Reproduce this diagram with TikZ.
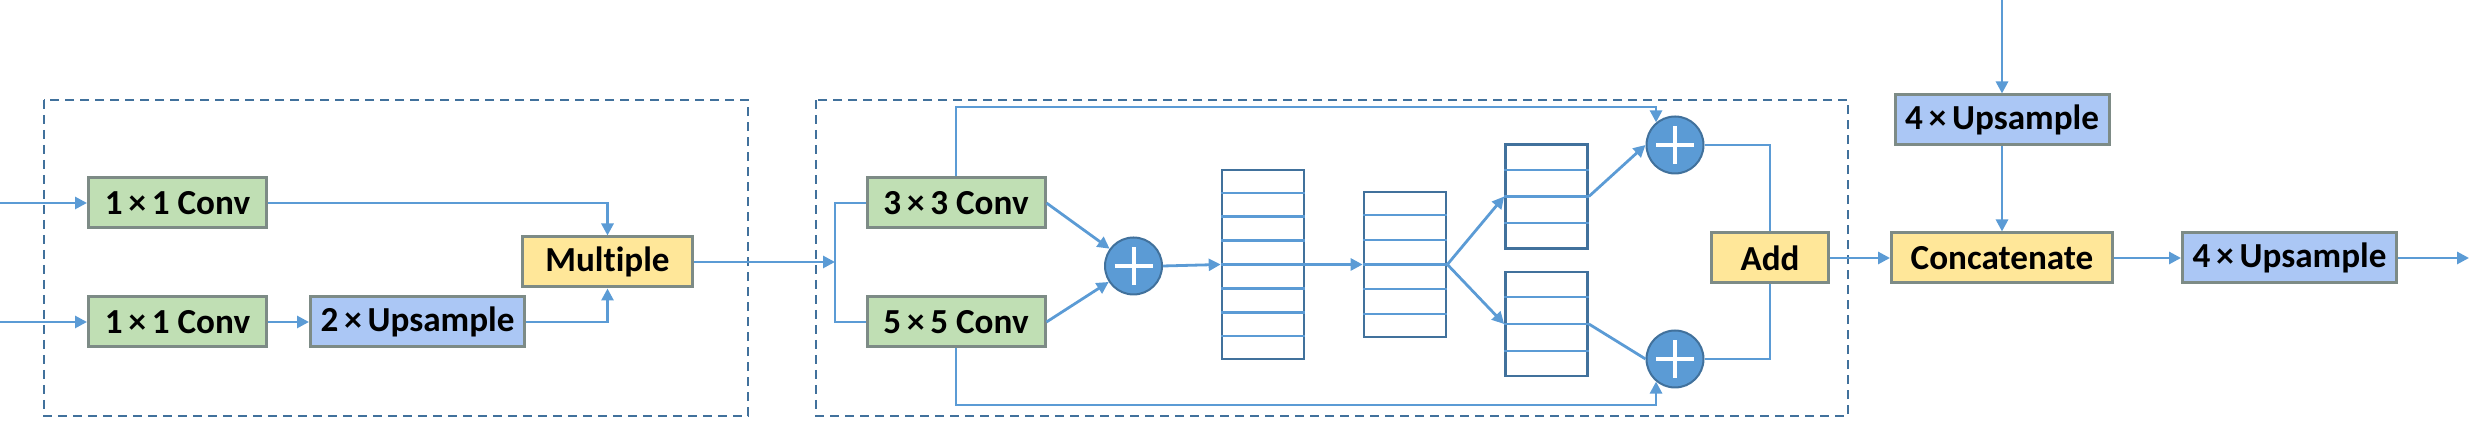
\documentclass[tikz,border=0pt]{standalone}
\usepackage{fontspec}
\setmainfont{Carlito}[Ligatures=NoCommon]
\usetikzlibrary{arrows.meta,calc}

\definecolor{linkblue}{HTML}{5B9BD5}
\definecolor{darkblue}{HTML}{41719C}
\definecolor{convgreen}{HTML}{C0DFB4}
\definecolor{upblue}{HTML}{ABC7F5}
\definecolor{opyellow}{HTML}{FFE799}
\definecolor{edgegray}{HTML}{7D8B86}

\tikzset{
  block/.style={draw=edgegray, line width=0.3mm, minimum height=5.0mm, inner sep=0pt,
    font=\bfseries\fontsize{10}{12}\selectfont},
  conv/.style={block, fill=convgreen, minimum width=17.8mm},
  upsample/.style={block, fill=upblue, minimum width=21.4mm},
  merge/.style={block, fill=opyellow},
  adder/.style={circle, draw=darkblue, line width=0.2mm, fill=linkblue, minimum size=5.7mm, inner sep=0pt,
    path picture={\draw[white, line width=0.4mm]
      ($(path picture bounding box.center)+(-1.9mm,0)$) -- ++(3.8mm,0)
      ($(path picture bounding box.center)+(0,-1.9mm)$) -- ++(0,3.8mm);}},
  stack/.style={draw=darkblue, line width=0.27mm, minimum width=8.2mm, inner sep=0pt},
  cell/.style={linkblue, line width=0.22mm},
  link/.style={draw=linkblue, line width=0.28mm},
  flow/.style={link, -{Triangle[length=1.2mm,width=1.2mm]}},
  frame/.style={draw=darkblue, line width=0.22mm, dash pattern=on 0.9mm off 0.6mm}
}

\begin{document}
\begin{tikzpicture}[x=0.1mm, y=-0.1mm]
    \useasboundingbox (0,0) rectangle (2483,448);

    % Dashed module frames
    \draw[frame] (44,100) rectangle (748,416);
    \draw[frame] (816,100) rectangle (1848,416);

    % Define coordinates
    \coordinate (in1) at (0,203);
    \coordinate (in2) at (0,322);
    \coordinate (split) at (835,262);
    \coordinate (topbus) at (0,107);
    \coordinate (botbus) at (0,405);
    \coordinate (feat) at (2002,0);
    \coordinate (out) at (2469,258);

    % Attention branch
    \node[conv] (conv1a) at (177.5,203) {1\,×\,1 Conv};
    \node[conv] (conv1b) at (177.5,322) {1\,×\,1 Conv};
    \node[upsample] (up2) at (417.5,322) {2\,×\,Upsample};
    \node[merge, minimum width=17.0mm] (mult) at (607.5,262) {Multiple};

    % Multi-scale branch
    \node[conv] (conv3) at (956,203) {3\,×\,3 Conv};
    \node[conv] (conv5) at (956,322) {5\,×\,5 Conv};
    \node[adder] (plus1) at (1133.5,266) {};
    \node[stack, minimum height=18.9mm] (s1) at (1263,264.5) {};
    \node[stack, minimum height=14.5mm] (s2) at (1405,264.5) {};
    \node[stack, minimum height=10.4mm] (s3) at (1546.5,196.5) {};
    \node[stack, minimum height=10.4mm] (s4) at (1546.5,324) {};
    \node[adder] (plus2) at (1675,145) {};
    \node[adder] (plus3) at (1675,359) {};
    \node[merge, minimum width=11.7mm] (add) at (1770,258) {Add};

    % Fusion
    \node[upsample] (up4a) at (2002,120) {4\,×\,Upsample};
    \node[merge, minimum width=22.1mm] (cat) at (2002,258) {Concatenate};
    \node[upsample] (up4b) at (2289.5,258) {4\,×\,Upsample};

    % Cells of the feature stacks
    \foreach \name/\n in {s1/8, s2/6, s3/4, s4/4} {
        \pgfmathtruncatemacro\m{\n-1}
        \foreach \k in {1,...,\m}
            \draw[cell] ($(\name.north west)!\k/\n!(\name.south west)$) -- ($(\name.north east)!\k/\n!(\name.south east)$);
    }

    % Connectors
    \draw[flow] (in1) -- (conv1a.west);
    \draw[flow] (in2) -- (conv1b.west);
    \draw[flow] (conv1a.east) -| (mult.north);
    \draw[flow] (conv1b.east) -- (up2.west);
    \draw[flow] (up2.east) -| (mult.south);
    \draw[flow] (mult.east) -- (split);
    \draw[link] (conv3.west) -| (split) |- (conv5.west);
    \draw[flow] (conv3.east) -- (plus1);
    \draw[flow] (conv5.east) -- (plus1);
    \draw[flow] (plus1.east) -- (s1.west);
    \draw[flow] (s1.east) -- (s2.west);
    \draw[flow] (s2.east) -- (s3.west);
    \draw[flow] (s2.east) -- (s4.west);
    \draw[flow] (s3.east) -- (plus2.west);
    \draw[link] (s4.east) -- (plus3.west);
    \draw[flow] (conv3.north) -- (conv3.north |- topbus) -| (plus2.130);
    \draw[flow] (conv5.south) -- (conv5.south |- botbus) -| (plus3.230);
    \draw[link] (plus2.east) -| (add.north);
    \draw[link] (plus3.east) -| (add.south);
    \draw[flow] (add.east) -- (cat.west);
    \draw[flow] (feat) -- (up4a.north);
    \draw[flow] (up4a.south) -- (cat.north);
    \draw[flow] (cat.east) -- (up4b.west);
    \draw[flow] (up4b.east) -- (out);
\end{tikzpicture}
\end{document}
